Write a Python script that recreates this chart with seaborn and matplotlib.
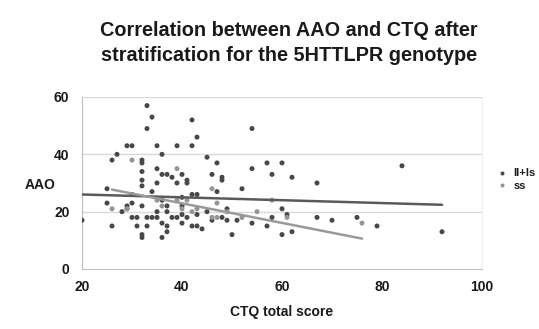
import matplotlib
matplotlib.use("Agg")
import matplotlib.pyplot as plt
import seaborn as sns
import pandas as pd

# CTQ total score / age at onset, genotype group ll+ls
ll_ctq = [20, 25, 25, 26, 26, 27, 28, 29, 29, 29, 30, 30, 30, 30, 31, 31,
          32, 32, 32, 32, 32, 32, 32, 32, 33, 33, 33, 33, 34, 34, 34,
          35, 35, 35, 35, 35, 36, 36, 36, 36, 36, 37, 37, 37, 37, 37,
          38, 38, 39, 39, 39, 40, 40, 40, 40, 40, 41, 41, 41, 42, 42, 42,
          42, 43, 43, 43, 43, 44, 45, 45, 46, 46, 47, 47, 48, 48, 48, 49,
          49, 50, 51, 52, 54, 54, 54, 57, 57, 58, 58, 60, 60, 60, 61, 62,
          62, 67, 67, 70, 75, 79, 84, 92]
ll_aao = [17, 28, 23, 38, 15, 40, 20, 21, 22, 43, 43, 26, 23, 18, 18, 15,
          38, 37, 34, 31, 29, 22, 12, 11, 57, 49, 18, 15, 53, 27, 18,
          43, 35, 30, 20, 18, 40, 33, 24, 16, 11, 33, 22, 20, 15, 13,
          32, 18, 43, 30, 18, 33, 25, 22, 19, 16, 31, 30, 18, 52, 43, 26,
          15, 46, 26, 19, 15, 14, 39, 20, 33, 17, 37, 27, 32, 31, 18, 21,
          17, 12, 17, 28, 49, 35, 16, 37, 15, 33, 18, 37, 21, 12, 19, 32,
          13, 30, 18, 17, 18, 15, 36, 13]

# CTQ total score / age at onset, genotype group ss
ss_ctq = [26, 29, 30, 35, 36, 39, 39, 40, 41, 42, 43, 46, 46, 47, 47, 49,
          52, 55, 58, 61, 76]
ss_aao = [21, 21, 38, 24, 22, 35, 24, 21, 24, 20, 21, 28, 18, 23, 18, 20,
          18, 20, 24, 18, 16]

# Linear trend lines (start and end of each fitted line)
trend_ll_x = [20, 92]
trend_ll_y = [26.0, 22.4]
trend_ss_x = [26, 76]
trend_ss_y = [27.7, 10.6]

groups = ["ll+ls", "ss"]
title_lines = ["Correlation between AAO and CTQ after",
               "stratification for the 5HTTLPR genotype"]

points = pd.DataFrame({
    "CTQ": ll_ctq + ss_ctq,
    "AAO": ll_aao + ss_aao,
    "genotype": [groups[0]] * len(ll_ctq) + [groups[1]] * len(ss_ctq),
})
trends = pd.DataFrame({
    "CTQ": trend_ll_x + trend_ss_x,
    "AAO": trend_ll_y + trend_ss_y,
    "genotype": [groups[0]] * 2 + [groups[1]] * 2,
})

sns.set_theme(style="white")
plt.rcParams["font.family"] = ["Liberation Sans", "DejaVu Sans"]
plt.rcParams["font.weight"] = "bold"

fig = plt.figure(figsize=(5.39, 3.29), dpi=100)
ax = fig.add_axes([82 / 539, 1 - 269 / 329, 400 / 539, 172 / 329])

marker_colors = {"ll+ls": "#484848", "ss": "#959595"}
line_colors = {"ll+ls": "#5a5a5a", "ss": "#9a9a9a"}

# horizontal gridlines
for yv in (20, 40, 60):
    ax.axhline(yv, color="#d9d9d9", lw=1.0, zorder=0)

sns.scatterplot(data=points, x="CTQ", y="AAO", hue="genotype",
                hue_order=groups, palette=marker_colors, s=13,
                edgecolor="none", ax=ax, zorder=3)
sns.lineplot(data=trends, x="CTQ", y="AAO", hue="genotype",
             hue_order=groups, palette=line_colors, lw=1.8,
             legend=False, ax=ax, zorder=4)

ax.set_xlim(20, 100)
ax.set_ylim(0, 60)
ax.set_xticks([20, 40, 60, 80, 100])
ax.set_yticks([0, 20, 40, 60])
ax.tick_params(axis="both", labelsize=10, colors="#bfbfbf",
               labelcolor="#1a1a1a", length=4, width=0.8)
ax.tick_params(axis="x", direction="inout", pad=6)
ax.tick_params(axis="y", direction="out", pad=5)
for lbl in ax.get_xticklabels() + ax.get_yticklabels():
    lbl.set_fontweight("bold")

ax.spines["top"].set_visible(False)
ax.spines["right"].set_color("#eeeeee")
ax.spines["left"].set_color("#bfbfbf")
ax.spines["bottom"].set_color("#bfbfbf")
for sp in ax.spines.values():
    sp.set_linewidth(0.8)

ax.set_xlabel("CTQ total score", fontsize=10, fontweight="bold",
              color="#1a1a1a", labelpad=8)
ax.set_ylabel("")
fig.text(40 / 539, 1 - 185 / 329, "AAO", fontsize=10, fontweight="bold",
         color="#1a1a1a", ha="center", va="center")

fig.text(289 / 539, 1 - 43 / 329, "\n".join(title_lines), fontsize=14.3,
         fontweight="bold", color="#1a1a1a", ha="center", va="center",
         linespacing=1.38)

leg = ax.legend(loc="center left", bbox_to_anchor=(1.0, 0.52), frameon=False,
                fontsize=8, handletextpad=0.0, labelspacing=0.2,
                markerscale=0.8, borderaxespad=0.4)
for t in leg.get_texts():
    t.set_fontweight("bold")
    t.set_color("#1a1a1a")

fig.savefig("out.png", dpi=100)
